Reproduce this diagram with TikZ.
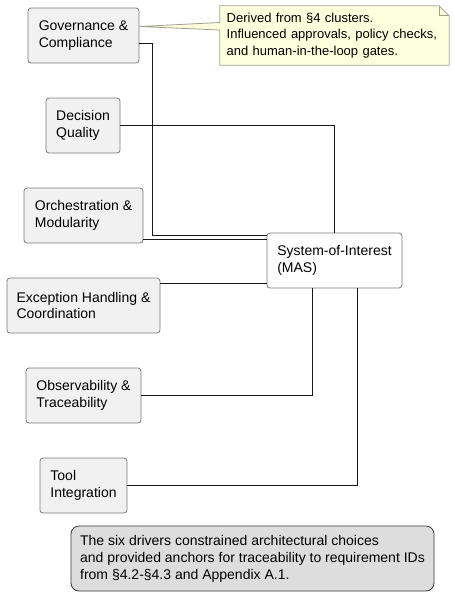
\documentclass[tikz,border=0pt]{standalone}
\usepackage{fontspec}
\setmainfont{Liberation Sans}
\usetikzlibrary{backgrounds}
\definecolor{boxfill}{HTML}{F1F1F1}
\definecolor{boxline}{HTML}{7A7A7A}
\definecolor{notefill}{HTML}{FEFFDD}
\definecolor{noteline}{HTML}{A0A090}
\definecolor{sumfill}{HTML}{DDDDDD}
\definecolor{sumline}{HTML}{3A3A3A}
\definecolor{wirecol}{HTML}{181818}
\begin{document}
\begin{tikzpicture}[x=1pt,y=-1pt,
  driver/.style={draw=boxline, fill=boxfill, rounded corners=3pt, line width=0.8pt,
    font=\fontsize{14}{16.5}\selectfont, align=left, inner sep=0pt, minimum height=55pt},
  soibox/.style={driver, fill=white},
  wire/.style={draw=wirecol, line width=0.9pt},
  notetext/.style={font=\fontsize{13}{16.7}\selectfont, align=left, text width=215.6pt,
    inner xsep=6.7pt, inner ysep=0pt, minimum height=59pt},
  sumbox/.style={draw=sumline, fill=sumfill, rounded corners=8pt, line width=0.8pt,
    font=\fontsize{14}{17}\selectfont, align=left, inner sep=0pt,
    minimum width=363pt, minimum height=65pt}]
\useasboundingbox (0,0) rectangle (455,606);

\node[driver, minimum width=111pt] (gov) at (83.5,35.5) {Governance \&\\Compliance};
\node[driver, minimum width=74pt] (dq) at (83,125.5) {Decision\\Quality};
\node[driver, minimum width=119pt] (orch) at (83.5,215.5) {Orchestration \&\\Modularity};
\node[soibox, minimum width=135pt] (soi) at (334.5,260.5) {System-of-Interest\\(MAS)};
\node[driver, minimum width=153pt] (exc) at (83.5,305.5) {Exception Handling \&\\Coordination};
\node[driver, minimum width=115pt] (obs) at (83.5,395.5) {Observability \&\\Traceability};
\node[driver, minimum width=87pt] (tool) at (83.5,485.5) {Tool\\Integration};

\node[notetext] (note) at (334.5,35.5) {Derived from §4 clusters.\\Influenced approvals, policy checks,\\and human-in-the-loop gates.};

\node[sumbox] (sum) at (252.5,558.5) {The six drivers constrained architectural choices\\and provided anchors for traceability to requirement IDs\\from §4.2-§4.3 and Appendix A.1.};

\coordinate (w0) at ([yshift=9pt]gov.east);
\coordinate (w1) at ([yshift=13pt]note.west);
\coordinate (w2) at ([yshift=5.5pt]note.west);
\begin{pgfonlayer}{background}
  \filldraw[fill=notefill, draw=noteline, line width=0.8pt]
    (note.north west) -- ([xshift=-10pt]note.north east) -- ([yshift=-10pt]note.north east)
    -- (note.south east) -- (note.south west) -- cycle;
  \draw[draw=noteline, line width=0.8pt]
    ([xshift=-10pt]note.north east) |- ([yshift=-10pt]note.north east);
  \fill[notefill] (w0) -- (w1) -- ([xshift=1pt]w1) -- ([xshift=1pt]w2) -- (w2) -- cycle;
  \draw[draw=noteline, line width=0.8pt] (w1) -- (w0) -- (w2);
\end{pgfonlayer}

\draw[wire] ([yshift=-8pt]gov.east) -- ++(13,0) |- ([yshift=25.5pt]soi.west);
\draw[wire] (dq.east) -| (soi.north);
\coordinate (o1) at ([yshift=-23.5pt]orch.east);
\draw[wire] (o1) -- (o1 -| soi.west);
\coordinate (e1) at ([yshift=22pt]exc.east);
\draw[wire] (e1) -- (e1 -| soi.west);
\draw[wire] (obs.east) -| ([xshift=-22.5pt]soi.south);
\draw[wire] (tool.east) -| ([xshift=23pt]soi.south);
\end{tikzpicture}
\end{document}
